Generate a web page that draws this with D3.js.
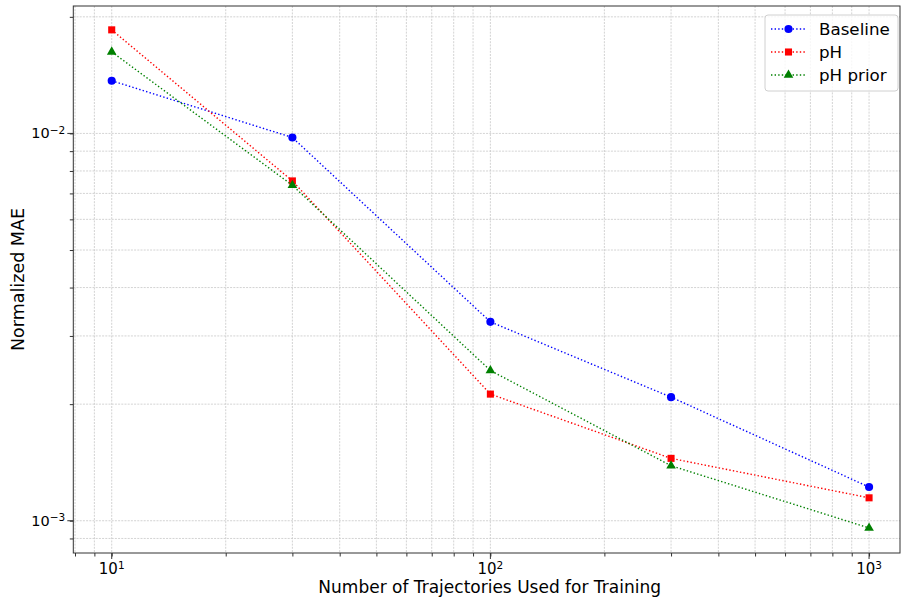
<!DOCTYPE html>
<html>
<head>
<meta charset="utf-8">
<script src="https://cdn.jsdelivr.net/npm/d3@7"></script>
<style>
  body { margin: 0; background: #fff; }
  text { font-family: "DejaVu Sans", sans-serif; fill: #000; }
</style>
</head>
<body>
<svg id="chart" width="901" height="598"></svg>
<script>
// training set sizes
var trajectories = [10, 30, 100, 300, 1000];

// normalized MAE per model
var baseline = [0.01368, 0.00976, 0.003262, 0.002085, 0.001222];
var ph       = [0.01851, 0.00754, 0.002123, 0.001449, 0.001146];
var phPrior  = [0.01624, 0.007347, 0.002443, 0.001387, 0.000958];

var seriesNames = ["Baseline", "pH", "pH prior"];
var xTickExp = [1, 2, 3];
var yTickExp = [-3, -2];

var series = [
  {name: seriesNames[0], values: baseline, color: "#0000ff", marker: d3.symbolCircle, size: 52},
  {name: seriesNames[1], values: ph,       color: "#ff0000", marker: d3.symbolSquare, size: 50},
  {name: seriesNames[2], values: phPrior,  color: "#008000", marker: d3.symbolTriangle, size: 40}
];

var plot = {left: 73.3, right: 900, top: 6, bottom: 553};

var x = d3.scaleLog().domain([7.917, 1207]).range([plot.left, plot.right]);
var y = d3.scaleLog().domain([0.0008255, 0.02133]).range([plot.bottom, plot.top]);

var svg = d3.select("#chart");

// minor + major tick values
var xTicks = [];
for (var e = 0; e <= 3; e++) for (var m = 1; m < 10; m++) {
  var v = m * Math.pow(10, e);
  if (v >= x.domain()[0] && v <= x.domain()[1]) xTicks.push(v);
}
var yTicks = [];
for (var e = -4; e <= -2; e++) for (var m = 1; m < 10; m++) {
  var v = m * Math.pow(10, e);
  if (v >= y.domain()[0] && v <= y.domain()[1]) yTicks.push(v);
}

var grid = svg.append("g").attr("class", "grid");
grid.selectAll("line.gx").data(xTicks).enter().append("line")
  .attr("x1", function(d) {return x(d);}).attr("x2", function(d) {return x(d);})
  .attr("y1", plot.top).attr("y2", plot.bottom)
  .attr("stroke", "#c8c8c8").attr("stroke-width", 0.8).attr("stroke-dasharray", "2,1.2");
grid.selectAll("line.gy").data(yTicks).enter().append("line")
  .attr("y1", function(d) {return y(d);}).attr("y2", function(d) {return y(d);})
  .attr("x1", plot.left).attr("x2", plot.right)
  .attr("stroke", "#c8c8c8").attr("stroke-width", 0.8).attr("stroke-dasharray", "2,1.2");

// axes
var xAxis = d3.axisBottom(x).tickValues(xTicks).tickSize(3.5).tickFormat("");
svg.append("g").attr("transform", "translate(0," + plot.bottom + ")").call(xAxis)
  .call(function(g) {g.selectAll("line").attr("stroke", "#333"); g.select(".domain").remove();});
var yAxis = d3.axisLeft(y).tickValues(yTicks).tickSize(3.5).tickFormat("");
svg.append("g").attr("transform", "translate(" + plot.left + ",0)").call(yAxis)
  .call(function(g) {g.selectAll("line").attr("stroke", "#333"); g.select(".domain").remove();});

// major tick marks longer
svg.selectAll("line.majx").data(xTickExp).enter().append("line")
  .attr("x1", function(d) {return x(Math.pow(10, d));}).attr("x2", function(d) {return x(Math.pow(10, d));})
  .attr("y1", plot.bottom).attr("y2", plot.bottom + 6).attr("stroke", "#333");
svg.selectAll("line.majy").data(yTickExp).enter().append("line")
  .attr("y1", function(d) {return y(Math.pow(10, d));}).attr("y2", function(d) {return y(Math.pow(10, d));})
  .attr("x1", plot.left).attr("x2", plot.left - 6).attr("stroke", "#333");

// frame
svg.append("rect").attr("x", plot.left).attr("y", plot.top)
  .attr("width", plot.right - plot.left).attr("height", plot.bottom - plot.top)
  .attr("fill", "none").attr("stroke", "#333").attr("stroke-width", 1);

// tick labels
var xl = svg.selectAll("text.xt").data(xTickExp).enter().append("text")
  .attr("x", function(d) {return x(Math.pow(10, d));})
  .attr("y", plot.bottom + 21)
  .attr("text-anchor", "middle").style("font-size", "15px");
xl.append("tspan").text("10");
xl.append("tspan").attr("dy", "-0.45em").style("font-size", "10.5px").text(function(d) {return d;});

var yl = svg.selectAll("text.yt").data(yTickExp).enter().append("text")
  .attr("x", plot.left - 8)
  .attr("y", function(d) {return y(Math.pow(10, d)) + 5;})
  .attr("text-anchor", "end").style("font-size", "14.5px");
yl.append("tspan").text("10");
yl.append("tspan").attr("dy", "-0.45em").style("font-size", "10.5px").text(function(d) {return "\u2212" + (-d);});

// axis titles
svg.append("text").attr("x", (plot.left + plot.right) / 2 + 3).attr("y", 593)
  .attr("text-anchor", "middle").style("font-size", "17px")
  .text("Number of Trajectories Used for Training");
svg.append("text").attr("transform", "translate(24," + ((plot.top + plot.bottom) / 2) + ") rotate(-90)")
  .attr("text-anchor", "middle").style("font-size", "17.5px")
  .text("Normalized MAE");

// lines + markers
var line = d3.line()
  .x(function(d, i) {return x(trajectories[i]);})
  .y(function(d) {return y(d);});

var g = svg.selectAll("g.series").data(series).enter().append("g").attr("class", "series");
g.append("path")
  .attr("d", function(d) {return line(d.values);})
  .attr("fill", "none").attr("stroke", function(d) {return d.color;})
  .attr("stroke-width", 1.4).attr("stroke-dasharray", "1.4,2.2");
g.each(function(s) {
  d3.select(this).selectAll("path.mk").data(s.values).enter().append("path")
    .attr("transform", function(d, i) {return "translate(" + x(trajectories[i]) + "," + y(d) + ")";})
    .attr("d", d3.symbol().type(s.marker).size(s.size))
    .attr("fill", s.color);
});

// legend
var lg = svg.append("g").attr("transform", "translate(765,15)");
lg.append("rect").attr("width", 133).attr("height", 76).attr("rx", 3)
  .attr("fill", "rgba(255,255,255,0.8)").attr("stroke", "#d0d0d0");
var items = lg.selectAll("g").data(series).enter().append("g")
  .attr("transform", function(d, i) {return "translate(0," + (14 + i * 23) + ")";});
items.append("line").attr("x1", 6).attr("x2", 41).attr("y1", 0).attr("y2", 0)
  .attr("stroke", function(d) {return d.color;}).attr("stroke-width", 1.4).attr("stroke-dasharray", "1.4,2.2");
items.append("path").attr("transform", "translate(23.5,0)")
  .attr("d", function(d) {return d3.symbol().type(d.marker).size(d.size)();})
  .attr("fill", function(d) {return d.color;});
items.append("text").attr("x", 54).attr("y", 6).style("font-size", "16.7px")
  .text(function(d) {return d.name;});
</script>
</body>
</html>
